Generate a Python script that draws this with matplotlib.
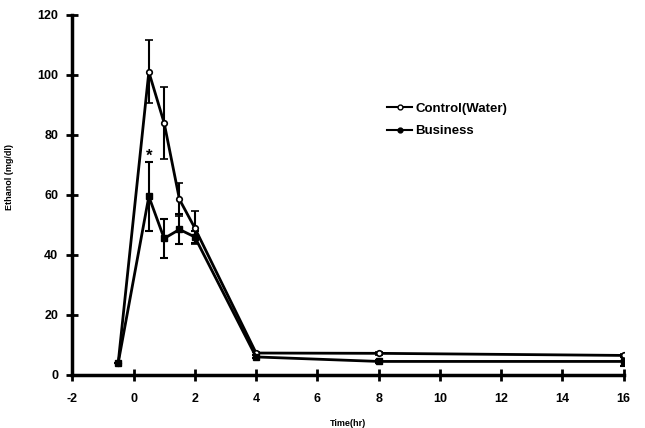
import numpy as np
import matplotlib.pyplot as plt
from matplotlib.lines import Line2D

plt.rcParams['font.family'] = ['Liberation Sans', 'DejaVu Sans']
plt.rcParams['font.weight'] = 'bold'
plt.rcParams['axes.unicode_minus'] = False

# Время (ч) и концентрация этанола (mg/dl)
time = [-0.5, 0.5, 1.0, 1.5, 2.0, 4.0, 8.0, 16.0]
control = [4, 101, 84, 58.5, 49, 7.3, 7.2, 6.5]
control_err = [0, 10.5, 12, 5.5, 5.5, 0.5, 0.5, 0.5]
business = [4, 59.5, 45.5, 48.5, 46, 6.0, 4.5, 4.5]
business_err = [0, 11.5, 6.5, 5, 2, 0.5, 0.5, 1.5]

xticks = [-2, 0, 2, 4, 6, 8, 10, 12, 14, 16]
yticks = [0, 20, 40, 60, 80, 100, 120]

fig = plt.figure(figsize=(6.45, 4.28), dpi=100)
ax = fig.add_axes([0.112, 0.124, 0.855, 0.841])

ax.errorbar(time, control, yerr=control_err, color='black', lw=2, marker='o',
            ms=4, mfc='white', mec='black', mew=1.2, capsize=3, elinewidth=1.5,
            capthick=1.5)
ax.errorbar(time, business, yerr=business_err, color='black', lw=2, marker='s',
            ms=4, mfc='black', mec='black', capsize=3, elinewidth=1.5,
            capthick=1.5)

ax.text(0.5, 73, '*', ha='center', va='center', fontsize=12, fontweight='bold')

ax.set_xlim(-2, 16)
ax.set_ylim(0, 120)
ax.set_xticks(xticks)
ax.set_yticks(yticks)
ax.tick_params(direction='inout', length=8, width=2, labelsize=9)
ax.tick_params(axis='x', pad=9)
ax.tick_params(axis='y', pad=6)
for s in ['top', 'right']:
    ax.spines[s].set_visible(False)
for s in ['left', 'bottom']:
    ax.spines[s].set_linewidth(2.5)

ax.set_xlabel('Time(hr)', fontsize=6.5, fontweight='bold', labelpad=10)
ax.set_ylabel('Ethanol (mg/dl)', fontsize=6.5, fontweight='bold')
ax.yaxis.set_label_coords(-0.105, 0.55)

handles = [
    Line2D([], [], color='black', lw=1.5, marker='o', ms=3.5, mfc='white', mec='black'),
    Line2D([], [], color='black', lw=1.5, marker='o', ms=3.5, mfc='black', mec='black'),
]
ax.legend(handles, ['Control(Water)', 'Business'], loc='upper left',
          bbox_to_anchor=(0.55, 0.79), frameon=False, fontsize=9.5,
          handlelength=1.9, handletextpad=0.2, labelspacing=0.8)

fig.savefig('out.png', dpi=100)
